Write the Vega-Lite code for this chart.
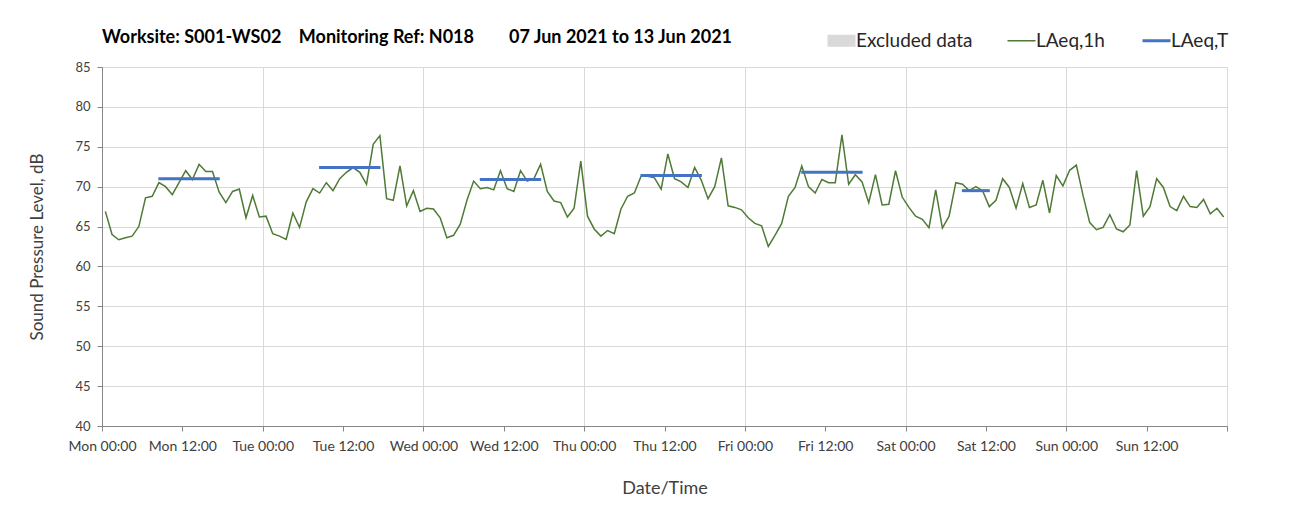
{
  "$schema": "https://vega.github.io/schema/vega-lite/v6.json",
  "width": 1125,
  "height": 359,
  "autosize": {"type": "none"},
  "padding": {"left": 102, "top": 67, "right": 74, "bottom": 96},
  "background": "white",
  "title": {
    "text": "Worksite: S001-WS02\u00a0\u00a0\u00a0\u00a0Monitoring Ref: N018\u00a0\u00a0\u00a0\u00a0\u00a0\u00a0\u00a0\u00a007 Jun 2021 to 13 Jun 2021",
    "anchor": "start",
    "frame": "group",
    "font": "Lato",
    "fontSize": 18,
    "fontWeight": "bold",
    "color": "#000000",
    "offset": 20,
    "dy": 36
  },
  "config": {
    "view": {"stroke": null},
    "font": "Lato"
  },
  "datasets": {
    "hourly": [
      {"t": "2021-06-07T00:30", "v": 66.9, "s": "LAeq,1h"}, {"t": "2021-06-07T01:30", "v": 64.0, "s": "LAeq,1h"}, {"t": "2021-06-07T02:30", "v": 63.35, "s": "LAeq,1h"}, {"t": "2021-06-07T03:30", "v": 63.6, "s": "LAeq,1h"},
      {"t": "2021-06-07T04:30", "v": 63.8, "s": "LAeq,1h"}, {"t": "2021-06-07T05:30", "v": 65.0, "s": "LAeq,1h"}, {"t": "2021-06-07T06:30", "v": 68.6, "s": "LAeq,1h"}, {"t": "2021-06-07T07:30", "v": 68.8, "s": "LAeq,1h"},
      {"t": "2021-06-07T08:30", "v": 70.5, "s": "LAeq,1h"}, {"t": "2021-06-07T09:30", "v": 70.0, "s": "LAeq,1h"}, {"t": "2021-06-07T10:30", "v": 69.0, "s": "LAeq,1h"}, {"t": "2021-06-07T11:30", "v": 70.5, "s": "LAeq,1h"},
      {"t": "2021-06-07T12:30", "v": 72.0, "s": "LAeq,1h"}, {"t": "2021-06-07T13:30", "v": 70.9, "s": "LAeq,1h"}, {"t": "2021-06-07T14:30", "v": 72.8, "s": "LAeq,1h"}, {"t": "2021-06-07T15:30", "v": 71.9, "s": "LAeq,1h"},
      {"t": "2021-06-07T16:30", "v": 71.9, "s": "LAeq,1h"}, {"t": "2021-06-07T17:30", "v": 69.3, "s": "LAeq,1h"}, {"t": "2021-06-07T18:30", "v": 68.0, "s": "LAeq,1h"}, {"t": "2021-06-07T19:30", "v": 69.4, "s": "LAeq,1h"},
      {"t": "2021-06-07T20:30", "v": 69.7, "s": "LAeq,1h"}, {"t": "2021-06-07T21:30", "v": 66.1, "s": "LAeq,1h"}, {"t": "2021-06-07T22:30", "v": 68.9, "s": "LAeq,1h"}, {"t": "2021-06-07T23:30", "v": 66.2, "s": "LAeq,1h"},
      {"t": "2021-06-08T00:30", "v": 66.3, "s": "LAeq,1h"}, {"t": "2021-06-08T01:30", "v": 64.1, "s": "LAeq,1h"}, {"t": "2021-06-08T02:30", "v": 63.8, "s": "LAeq,1h"}, {"t": "2021-06-08T03:30", "v": 63.4, "s": "LAeq,1h"},
      {"t": "2021-06-08T04:30", "v": 66.7, "s": "LAeq,1h"}, {"t": "2021-06-08T05:30", "v": 64.9, "s": "LAeq,1h"}, {"t": "2021-06-08T06:30", "v": 68.1, "s": "LAeq,1h"}, {"t": "2021-06-08T07:30", "v": 69.75, "s": "LAeq,1h"},
      {"t": "2021-06-08T08:30", "v": 69.2, "s": "LAeq,1h"}, {"t": "2021-06-08T09:30", "v": 70.5, "s": "LAeq,1h"}, {"t": "2021-06-08T10:30", "v": 69.5, "s": "LAeq,1h"}, {"t": "2021-06-08T11:30", "v": 71.0, "s": "LAeq,1h"},
      {"t": "2021-06-08T12:30", "v": 71.8, "s": "LAeq,1h"}, {"t": "2021-06-08T13:30", "v": 72.4, "s": "LAeq,1h"}, {"t": "2021-06-08T14:30", "v": 71.8, "s": "LAeq,1h"}, {"t": "2021-06-08T15:30", "v": 70.3, "s": "LAeq,1h"},
      {"t": "2021-06-08T16:30", "v": 75.3, "s": "LAeq,1h"}, {"t": "2021-06-08T17:30", "v": 76.4, "s": "LAeq,1h"}, {"t": "2021-06-08T18:30", "v": 68.5, "s": "LAeq,1h"}, {"t": "2021-06-08T19:30", "v": 68.3, "s": "LAeq,1h"},
      {"t": "2021-06-08T20:30", "v": 72.6, "s": "LAeq,1h"}, {"t": "2021-06-08T21:30", "v": 67.6, "s": "LAeq,1h"}, {"t": "2021-06-08T22:30", "v": 69.5, "s": "LAeq,1h"}, {"t": "2021-06-08T23:30", "v": 66.9, "s": "LAeq,1h"},
      {"t": "2021-06-09T00:30", "v": 67.3, "s": "LAeq,1h"}, {"t": "2021-06-09T01:30", "v": 67.2, "s": "LAeq,1h"}, {"t": "2021-06-09T02:30", "v": 66.1, "s": "LAeq,1h"}, {"t": "2021-06-09T03:30", "v": 63.6, "s": "LAeq,1h"},
      {"t": "2021-06-09T04:30", "v": 63.9, "s": "LAeq,1h"}, {"t": "2021-06-09T05:30", "v": 65.3, "s": "LAeq,1h"}, {"t": "2021-06-09T06:30", "v": 68.3, "s": "LAeq,1h"}, {"t": "2021-06-09T07:30", "v": 70.7, "s": "LAeq,1h"},
      {"t": "2021-06-09T08:30", "v": 69.75, "s": "LAeq,1h"}, {"t": "2021-06-09T09:30", "v": 69.9, "s": "LAeq,1h"}, {"t": "2021-06-09T10:30", "v": 69.6, "s": "LAeq,1h"}, {"t": "2021-06-09T11:30", "v": 72.0, "s": "LAeq,1h"},
      {"t": "2021-06-09T12:30", "v": 69.75, "s": "LAeq,1h"}, {"t": "2021-06-09T13:30", "v": 69.4, "s": "LAeq,1h"}, {"t": "2021-06-09T14:30", "v": 72.0, "s": "LAeq,1h"}, {"t": "2021-06-09T15:30", "v": 70.7, "s": "LAeq,1h"},
      {"t": "2021-06-09T16:30", "v": 71.0, "s": "LAeq,1h"}, {"t": "2021-06-09T17:30", "v": 72.8, "s": "LAeq,1h"}, {"t": "2021-06-09T18:30", "v": 69.4, "s": "LAeq,1h"}, {"t": "2021-06-09T19:30", "v": 68.2, "s": "LAeq,1h"},
      {"t": "2021-06-09T20:30", "v": 68.0, "s": "LAeq,1h"}, {"t": "2021-06-09T21:30", "v": 66.2, "s": "LAeq,1h"}, {"t": "2021-06-09T22:30", "v": 67.3, "s": "LAeq,1h"}, {"t": "2021-06-09T23:30", "v": 73.2, "s": "LAeq,1h"},
      {"t": "2021-06-10T00:30", "v": 66.3, "s": "LAeq,1h"}, {"t": "2021-06-10T01:30", "v": 64.7, "s": "LAeq,1h"}, {"t": "2021-06-10T02:30", "v": 63.8, "s": "LAeq,1h"}, {"t": "2021-06-10T03:30", "v": 64.5, "s": "LAeq,1h"},
      {"t": "2021-06-10T04:30", "v": 64.1, "s": "LAeq,1h"}, {"t": "2021-06-10T05:30", "v": 67.2, "s": "LAeq,1h"}, {"t": "2021-06-10T06:30", "v": 68.8, "s": "LAeq,1h"}, {"t": "2021-06-10T07:30", "v": 69.2, "s": "LAeq,1h"},
      {"t": "2021-06-10T08:30", "v": 71.3, "s": "LAeq,1h"}, {"t": "2021-06-10T09:30", "v": 71.3, "s": "LAeq,1h"}, {"t": "2021-06-10T10:30", "v": 71.1, "s": "LAeq,1h"}, {"t": "2021-06-10T11:30", "v": 69.7, "s": "LAeq,1h"},
      {"t": "2021-06-10T12:30", "v": 74.1, "s": "LAeq,1h"}, {"t": "2021-06-10T13:30", "v": 71.0, "s": "LAeq,1h"}, {"t": "2021-06-10T14:30", "v": 70.6, "s": "LAeq,1h"}, {"t": "2021-06-10T15:30", "v": 69.9, "s": "LAeq,1h"},
      {"t": "2021-06-10T16:30", "v": 72.4, "s": "LAeq,1h"}, {"t": "2021-06-10T17:30", "v": 70.8, "s": "LAeq,1h"}, {"t": "2021-06-10T18:30", "v": 68.5, "s": "LAeq,1h"}, {"t": "2021-06-10T19:30", "v": 70.0, "s": "LAeq,1h"},
      {"t": "2021-06-10T20:30", "v": 73.6, "s": "LAeq,1h"}, {"t": "2021-06-10T21:30", "v": 67.6, "s": "LAeq,1h"}, {"t": "2021-06-10T22:30", "v": 67.4, "s": "LAeq,1h"}, {"t": "2021-06-10T23:30", "v": 67.1, "s": "LAeq,1h"},
      {"t": "2021-06-11T00:30", "v": 66.1, "s": "LAeq,1h"}, {"t": "2021-06-11T01:30", "v": 65.4, "s": "LAeq,1h"}, {"t": "2021-06-11T02:30", "v": 65.1, "s": "LAeq,1h"}, {"t": "2021-06-11T03:30", "v": 62.5, "s": "LAeq,1h"},
      {"t": "2021-06-11T04:30", "v": 63.9, "s": "LAeq,1h"}, {"t": "2021-06-11T05:30", "v": 65.4, "s": "LAeq,1h"}, {"t": "2021-06-11T06:30", "v": 68.8, "s": "LAeq,1h"}, {"t": "2021-06-11T07:30", "v": 69.9, "s": "LAeq,1h"},
      {"t": "2021-06-11T08:30", "v": 72.6, "s": "LAeq,1h"}, {"t": "2021-06-11T09:30", "v": 70.0, "s": "LAeq,1h"}, {"t": "2021-06-11T10:30", "v": 69.2, "s": "LAeq,1h"}, {"t": "2021-06-11T11:30", "v": 70.9, "s": "LAeq,1h"},
      {"t": "2021-06-11T12:30", "v": 70.5, "s": "LAeq,1h"}, {"t": "2021-06-11T13:30", "v": 70.5, "s": "LAeq,1h"}, {"t": "2021-06-11T14:30", "v": 76.5, "s": "LAeq,1h"}, {"t": "2021-06-11T15:30", "v": 70.3, "s": "LAeq,1h"},
      {"t": "2021-06-11T16:30", "v": 71.5, "s": "LAeq,1h"}, {"t": "2021-06-11T17:30", "v": 70.6, "s": "LAeq,1h"}, {"t": "2021-06-11T18:30", "v": 68.0, "s": "LAeq,1h"}, {"t": "2021-06-11T19:30", "v": 71.5, "s": "LAeq,1h"},
      {"t": "2021-06-11T20:30", "v": 67.7, "s": "LAeq,1h"}, {"t": "2021-06-11T21:30", "v": 67.8, "s": "LAeq,1h"}, {"t": "2021-06-11T22:30", "v": 72.0, "s": "LAeq,1h"}, {"t": "2021-06-11T23:30", "v": 68.7, "s": "LAeq,1h"},
      {"t": "2021-06-12T00:30", "v": 67.4, "s": "LAeq,1h"}, {"t": "2021-06-12T01:30", "v": 66.3, "s": "LAeq,1h"}, {"t": "2021-06-12T02:30", "v": 65.9, "s": "LAeq,1h"}, {"t": "2021-06-12T03:30", "v": 64.85, "s": "LAeq,1h"},
      {"t": "2021-06-12T04:30", "v": 69.6, "s": "LAeq,1h"}, {"t": "2021-06-12T05:30", "v": 64.8, "s": "LAeq,1h"}, {"t": "2021-06-12T06:30", "v": 66.3, "s": "LAeq,1h"}, {"t": "2021-06-12T07:30", "v": 70.5, "s": "LAeq,1h"},
      {"t": "2021-06-12T08:30", "v": 70.3, "s": "LAeq,1h"}, {"t": "2021-06-12T09:30", "v": 69.5, "s": "LAeq,1h"}, {"t": "2021-06-12T10:30", "v": 70.0, "s": "LAeq,1h"}, {"t": "2021-06-12T11:30", "v": 69.5, "s": "LAeq,1h"},
      {"t": "2021-06-12T12:30", "v": 67.5, "s": "LAeq,1h"}, {"t": "2021-06-12T13:30", "v": 68.3, "s": "LAeq,1h"}, {"t": "2021-06-12T14:30", "v": 71.0, "s": "LAeq,1h"}, {"t": "2021-06-12T15:30", "v": 69.9, "s": "LAeq,1h"},
      {"t": "2021-06-12T16:30", "v": 67.3, "s": "LAeq,1h"}, {"t": "2021-06-12T17:30", "v": 70.4, "s": "LAeq,1h"}, {"t": "2021-06-12T18:30", "v": 67.4, "s": "LAeq,1h"}, {"t": "2021-06-12T19:30", "v": 67.7, "s": "LAeq,1h"},
      {"t": "2021-06-12T20:30", "v": 70.8, "s": "LAeq,1h"}, {"t": "2021-06-12T21:30", "v": 66.7, "s": "LAeq,1h"}, {"t": "2021-06-12T22:30", "v": 71.4, "s": "LAeq,1h"}, {"t": "2021-06-12T23:30", "v": 70.1, "s": "LAeq,1h"},
      {"t": "2021-06-13T00:30", "v": 72.05, "s": "LAeq,1h"}, {"t": "2021-06-13T01:30", "v": 72.7, "s": "LAeq,1h"}, {"t": "2021-06-13T02:30", "v": 68.9, "s": "LAeq,1h"}, {"t": "2021-06-13T03:30", "v": 65.5, "s": "LAeq,1h"},
      {"t": "2021-06-13T04:30", "v": 64.6, "s": "LAeq,1h"}, {"t": "2021-06-13T05:30", "v": 64.9, "s": "LAeq,1h"}, {"t": "2021-06-13T06:30", "v": 66.5, "s": "LAeq,1h"}, {"t": "2021-06-13T07:30", "v": 64.7, "s": "LAeq,1h"},
      {"t": "2021-06-13T08:30", "v": 64.35, "s": "LAeq,1h"}, {"t": "2021-06-13T09:30", "v": 65.2, "s": "LAeq,1h"}, {"t": "2021-06-13T10:30", "v": 72.0, "s": "LAeq,1h"}, {"t": "2021-06-13T11:30", "v": 66.3, "s": "LAeq,1h"},
      {"t": "2021-06-13T12:30", "v": 67.5, "s": "LAeq,1h"}, {"t": "2021-06-13T13:30", "v": 71.0, "s": "LAeq,1h"}, {"t": "2021-06-13T14:30", "v": 69.9, "s": "LAeq,1h"}, {"t": "2021-06-13T15:30", "v": 67.5, "s": "LAeq,1h"},
      {"t": "2021-06-13T16:30", "v": 67.0, "s": "LAeq,1h"}, {"t": "2021-06-13T17:30", "v": 68.8, "s": "LAeq,1h"}, {"t": "2021-06-13T18:30", "v": 67.5, "s": "LAeq,1h"}, {"t": "2021-06-13T19:30", "v": 67.4, "s": "LAeq,1h"},
      {"t": "2021-06-13T20:30", "v": 68.4, "s": "LAeq,1h"}, {"t": "2021-06-13T21:30", "v": 66.6, "s": "LAeq,1h"}, {"t": "2021-06-13T22:30", "v": 67.3, "s": "LAeq,1h"}, {"t": "2021-06-13T23:30", "v": 66.2, "s": "LAeq,1h"}
    ],
    "period": [
      {"t": "2021-06-07T08:25", "t2": "2021-06-07T17:35", "v": 71.0, "s": "LAeq,T"},
      {"t": "2021-06-08T08:25", "t2": "2021-06-08T17:35", "v": 72.4, "s": "LAeq,T"},
      {"t": "2021-06-09T08:25", "t2": "2021-06-09T17:35", "v": 70.9, "s": "LAeq,T"},
      {"t": "2021-06-10T08:25", "t2": "2021-06-10T17:35", "v": 71.4, "s": "LAeq,T"},
      {"t": "2021-06-11T08:25", "t2": "2021-06-11T17:35", "v": 71.8, "s": "LAeq,T"},
      {"t": "2021-06-12T08:25", "t2": "2021-06-12T12:35", "v": 69.5, "s": "LAeq,T"}
    ]
  },
  "encoding": {
    "x": {
      "field": "t",
      "type": "temporal",
      "scale": {"domain": [{"year": 2021, "month": 6, "date": 7}, {"year": 2021, "month": 6, "date": 14}]},
      "axis": {
        "title": "Date/Time",
        "titleFont": "Lato",
        "titleFontSize": 18,
        "titleFontWeight": "normal",
        "titleColor": "#404040",
        "titlePadding": 26,
        "format": "%a %H:%M",
        "values": [
          {"year": 2021, "month": 6, "date": 7, "hours": 0}, {"year": 2021, "month": 6, "date": 7, "hours": 12},
          {"year": 2021, "month": 6, "date": 8, "hours": 0}, {"year": 2021, "month": 6, "date": 8, "hours": 12},
          {"year": 2021, "month": 6, "date": 9, "hours": 0}, {"year": 2021, "month": 6, "date": 9, "hours": 12},
          {"year": 2021, "month": 6, "date": 10, "hours": 0}, {"year": 2021, "month": 6, "date": 10, "hours": 12},
          {"year": 2021, "month": 6, "date": 11, "hours": 0}, {"year": 2021, "month": 6, "date": 11, "hours": 12},
          {"year": 2021, "month": 6, "date": 12, "hours": 0}, {"year": 2021, "month": 6, "date": 12, "hours": 12},
          {"year": 2021, "month": 6, "date": 13, "hours": 0}, {"year": 2021, "month": 6, "date": 13, "hours": 12},
          {"year": 2021, "month": 6, "date": 14, "hours": 0}
        ],
        "labelExpr": "date(datum.value) === 14 ? '' : datum.label",
        "labelFont": "Lato",
        "labelFontSize": 14,
        "labelColor": "#404040",
        "labelPadding": 8,
        "labelOverlap": false,
        "labelFlush": false,
        "tickSize": 5,
        "tickColor": "#868686",
        "domainColor": "#868686",
        "grid": true,
        "gridColor": "#d9d9d9",
        "gridOpacity": {"condition": {"test": "hours(datum.value) === 0", "value": 1}, "value": 0}
      }
    },
    "y": {
      "field": "v",
      "type": "quantitative",
      "scale": {"domain": [40, 85], "nice": false, "zero": false},
      "axis": {
        "title": "Sound Pressure Level, dB",
        "titleFont": "Lato",
        "titleFontSize": 17,
        "titleFontWeight": "normal",
        "titleColor": "#404040",
        "titlePadding": 28,
        "values": [40, 45, 50, 55, 60, 65, 70, 75, 80, 85],
        "tickCount": 10,
        "labelOverlap": false,
        "labelFont": "Lato",
        "labelFontSize": 13,
        "labelColor": "#404040",
        "labelPadding": 7,
        "tickSize": 5,
        "tickColor": "#868686",
        "domainColor": "#868686",
        "grid": true,
        "gridColor": "#d9d9d9"
      }
    },
    "color": {
      "field": "s",
      "type": "nominal",
      "scale": {
        "domain": ["Excluded data", "LAeq,1h", "LAeq,T"],
        "range": ["#d9d9d9", "#4f7a35", "#4472c4"]
      },
      "legend": {
        "title": null,
        "orient": "none",
        "direction": "horizontal",
        "legendX": 730,
        "legendY": -36,
        "symbolType": "stroke",
        "symbolSize": 784,
        "symbolStrokeWidth": 1.5,
        "labelFont": "Lato",
        "labelFontSize": 19,
        "labelColor": "#262626",
        "labelOffset": 5,
        "columnPadding": 31,
        "encode": {
          "symbols": {
            "update": {
              "shape": {"signal": "datum.value === 'Excluded data' ? 'M-1,-0.43H1V0.43H-1Z' : 'stroke'"},
              "fill": {"signal": "datum.value === 'Excluded data' ? '#d9d9d9' : 'transparent'"},
              "strokeWidth": {"signal": "datum.value === 'LAeq,T' ? 3 : (datum.value === 'Excluded data' ? 0 : 1.5)"}
            }
          }
        }
      }
    }
  },
  "layer": [
    {
      "data": {"name": "hourly"},
      "mark": {"type": "line", "strokeWidth": 1.5}
    },
    {
      "data": {"name": "period"},
      "mark": {"type": "rule", "strokeWidth": 3},
      "encoding": {
        "x2": {"field": "t2"}
      }
    }
  ]
}
